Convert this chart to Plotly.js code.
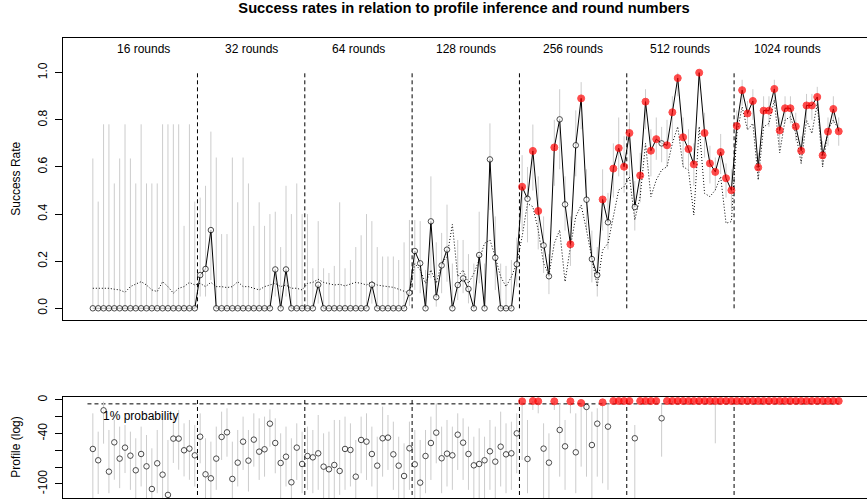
<!DOCTYPE html>
<html>
<head>
<meta charset="utf-8">
<script src="https://cdn.plot.ly/plotly-3.0.1.min.js"></script>
<style>
  html, body { margin: 0; padding: 0; overflow: hidden; background: #ffffff; }
</style>
</head>
<body>
<div id="chart"></div>
<script>
// Round-number groups (20 runs each)
const groupLabels = ['16 rounds', '32 rounds', '64 rounds', '128 rounds', '256 rounds', '512 rounds', '1024 rounds'];
const runsPerGroup = 20;

// Observed success rate per run
const successRate = [
  0,0,0,0,0,0,0,0,0,0,0,0,0,0,0,0,0,0,0,0,
  0.141,0.167,0.332,0,0,0,0,0,0,0,0,0,0,0,0.165,0,0.165,0,0,0,
  0,0,0.1,0,0,0,0,0,0,0,0,0,0.1,0,0,0,0,0,0,0.066,
  0.243,0.191,0,0.369,0.047,0.182,0.249,0,0.099,0.127,0.082,0,0.226,0,0.632,0.215,0,0,0,0.187,
  0.516,0.465,0.668,0.413,0.267,0.136,0.683,0.802,0.441,0.272,0.692,0.891,0.461,0.209,0.141,0.462,0.365,0.593,0.680,0.601,
  0.744,0.430,0.564,0.877,0.669,0.718,0.700,0.692,0.832,0.977,0.726,0.676,0.611,1.000,0.744,0.615,0.579,0.663,0.552,0.501,
  0.774,0.926,0.827,0.880,0.598,0.839,0.839,0.931,0.755,0.849,0.849,0.772,0.669,0.861,0.861,0.897,0.649,0.750,0.846,0.751
];

// Confidence interval of the success rate
const successUpper = [
  0.636,0.453,0.781,0.781,0.53,0.636,0.781,0.636,0.53,0.781,0.53,0.53,0.53,0.781,0.781,0.781,0.781,0.35,0.781,0.453,
  0.47,0.52,0.75,0.64,0.315,0.315,0.64,0.45,0.64,0.53,0.35,0.45,0.35,0.40,0.41,0.26,0.52,0.40,0.53,0.40,
  0.40,0.17,0.37,0.17,0.15,0.18,0.45,0.17,0.205,0.26,0.31,0.40,0.37,0.26,0.22,0.22,0.22,0.205,0.28,0.375,
  0.375,0.37,0.163,0.56,0.28,0.32,0.44,0.19,0.29,0.29,0.23,0.19,0.41,0.19,0.785,0.39,0.19,0.18,0.205,0.30,
  0.65,0.60,0.78,0.56,0.39,0.23,0.80,0.93,0.56,0.39,0.84,0.96,0.59,0.33,0.26,0.59,0.49,0.70,0.81,0.73,
  0.83,0.54,0.66,0.93,0.76,0.81,0.77,0.80,0.90,1.0,0.81,0.76,0.70,1.0,0.83,0.69,0.64,0.74,0.615,0.59,
  0.84,0.97,0.88,0.93,0.66,0.90,0.90,0.97,0.81,0.90,0.90,0.83,0.73,0.91,0.91,0.94,0.71,0.81,0.90,0.81
];
const successLower = [
  0,0,0,0,0,0,0,0,0,0,0,0,0,0,0,0,0,0,0,0,
  0.05,0.05,0.12,0,0,0,0,0,0,0,0,0,0,0,0.05,0,0.05,0,0,0,
  0,0,0.02,0,0,0,0,0,0,0,0,0,0.02,0,0,0,0,0,0,0.01,
  0.078,0.064,0,0.127,0.007,0.064,0.113,0,0.035,0.064,0.021,0,0.106,0,0.417,0.078,0,0,0,0.092,
  0.33,0.28,0.50,0.25,0.15,0.06,0.52,0.59,0.33,0.18,0.56,0.76,0.33,0.11,0.05,0.33,0.25,0.47,0.56,0.49,
  0.56,0.33,0.45,0.76,0.56,0.63,0.62,0.60,0.71,0.90,0.60,0.59,0.52,0.97,0.64,0.53,0.50,0.57,0.47,0.42,
  0.70,0.86,0.76,0.80,0.545,0.77,0.77,0.87,0.69,0.785,0.785,0.71,0.615,0.80,0.80,0.84,0.60,0.69,0.785,0.69
];

// Success rate expected from the inferred profile (dotted)
const expectedRate = [
  0.085,0.085,0.088,0.085,0.081,0.078,0.068,0.092,0.103,0.113,0.099,0.078,0.071,0.113,0.092,0.064,0.085,0.092,0.110,0.099,
  0.106,0.092,0.110,0.092,0.092,0.088,0.092,0.113,0.092,0.092,0.085,0.078,0.092,0.099,0.106,0.092,0.099,0.085,0.085,0.078,
  0.106,0.110,0.123,0.110,0.106,0.099,0.102,0.095,0.103,0.110,0.106,0.099,0.113,0.099,0.095,0.092,0.089,0.081,0.074,0.064,
  0.19,0.163,0.106,0.163,0.106,0.191,0.219,0.356,0.134,0.163,0.106,0.148,0.205,0.276,0.290,0.219,0.134,0.092,0.134,0.191,
  0.304,0.445,0.431,0.332,0.191,0.141,0.276,0.332,0.113,0.262,0.389,0.438,0.332,0.205,0.092,0.247,0.276,0.389,0.502,0.516,
  0.559,0.375,0.474,0.70,0.474,0.545,0.587,0.601,0.70,0.771,0.601,0.587,0.396,0.771,0.488,0.474,0.502,0.559,0.361,0.368,
  0.74,0.855,0.757,0.785,0.545,0.77,0.785,0.884,0.66,0.799,0.813,0.742,0.615,0.799,0.742,0.87,0.60,0.757,0.799,0.757
];

// 1 = the true profile was inferred (drawn in red)
const profileFound = [
  0,0,0,0,0,0,0,0,0,0,0,0,0,0,0,0,0,0,0,0,
  0,0,0,0,0,0,0,0,0,0,0,0,0,0,0,0,0,0,0,0,
  0,0,0,0,0,0,0,0,0,0,0,0,0,0,0,0,0,0,0,0,
  0,0,0,0,0,0,0,0,0,0,0,0,0,0,0,0,0,0,0,0,
  1,0,1,1,0,0,1,0,0,1,0,1,0,0,0,1,0,1,1,1,
  1,0,1,1,1,1,0,1,1,1,1,1,1,1,1,1,1,1,1,1,
  1,1,1,1,1,1,1,1,1,1,1,1,1,1,1,1,1,1,1,1
];

// Log-probability of the true profile, with its range
const profileLog = [
  -58.3,-71.8,-12.3,-85.3,-50.4,-69.8,-56.7,-66.3,-83.7,-64.3,-79,-106,-75.4,-88.9,-113,-46,-46,-59.9,-57.9,-65.9,
  -43.7,-88.5,-93.3,-69.8,-44,-38.5,-94,-74.6,-49.6,-72.2,-47.2,-61.5,-58.7,-28.2,-51.2,-75,-67.5,-98,-56.7,-76.2,
  -66.7,-68.3,-63.5,-79.4,-82.5,-77.4,-84.5,-58.3,-59.5,-91.3,-47.6,-49.6,-64.3,-78.2,-45.6,-44.8,-64.7,-78.2,-90.5,-57.5,
  -76.6,-98.4,-66.7,-51.2,-38.9,-69.4,-63.9,-65.9,-41.3,-50.8,-64.3,-77.8,-76.2,-71.8,-61.1,-73.4,-55.6,-64.7,-63.5,-39.7,
  -1.6,-70.2,-1.2,-1.6,-57.9,-74.6,-1.6,-35.7,-55.2,-1.6,-62.3,-3.6,-8.3,-53.6,-28.2,-2.8,-31.7,-1.2,-1.2,-1.2,
  -1.2,-45.6,-1.2,-1.2,-1.2,-1.2,-21.8,-1.2,-1.2,-1.2,-1.2,-1.2,-1.2,-1.2,-1.2,-1.2,-1.2,-1.2,-1.2,-1.2,
  -1.2,-1.2,-1.2,-1.2,-1.2,-1.2,-1.2,-1.2,-1.2,-1.2,-1.2,-1.2,-1.2,-1.2,-1.2,-1.2,-1.2,-1.2,-1.2,-1.2
];
const profileUpper = [
  -15.9,-37.7,-2,-35.7,-23.8,-31.7,-29.8,-37.7,-45.6,-31.7,-41.7,-57.5,-35.7,-23.8,-47.6,-15.9,-11.9,-27.8,-23.8,-29.8,
  -15.9,-45.6,-49.6,-31.7,-13.9,-9.9,-49.6,-35.7,-19.8,-35.7,-15.9,-21.8,-19.8,-11.1,-21.8,-39.7,-31.7,-45.6,-27.8,-37.7,
  -31.7,-35.7,-17.9,-39.7,-37.7,-23.8,-23.8,-19.8,-27.8,-47.6,-19.8,-15.9,-31.7,-43.7,-7.9,-17.9,-25.8,-43.7,-51.6,-25.8,
  -35.7,-47.6,-35.7,-19.8,-4,-31.7,-23.8,-31.7,-15.9,-21.8,-31.7,-43.7,-33.7,-43.7,-23.8,-31.7,-13.9,-27.8,-25.8,-15.9,
  -1.6,-23.8,-1.2,-1.6,-27.8,-39.7,-1.6,-4,-23.8,-1.6,-15.9,-3.6,-6,-13.9,-9.9,-2.8,-4,-1.2,-1.2,-1.2,
  -1.2,-29.8,-1.2,-1.2,-1.2,-1.2,-4,-1.2,-1.2,-1.2,-1.2,-1.2,-1.2,-1.2,-1.2,-1.2,-1.2,-1.2,-1.2,-1.2,
  -1.2,-1.2,-1.2,-1.2,-1.2,-1.2,-1.2,-1.2,-1.2,-1.2,-1.2,-1.2,-1.2,-1.2,-1.2,-1.2,-1.2,-1.2,-1.2,-1.2
];
const profileLower = [
  -130,-112,-52,-111,-95,-105,-87,-107,-130,-103,-130,-130,-111,-130,-130,-75,-83,-91,-95,-103,
  -75.4,-130,-130,-107,-71.4,-67.5,-130,-103,-83.3,-109,-79.4,-95.2,-91.3,-55.6,-87.3,-130,-103,-130,-95.2,-111,
  -107,-111,-107,-130,-130,-130,-113,-107,-103,-130,-87.3,-95.2,-103,-130,-91.3,-83.3,-107,-130,-130,-107,
  -130,-130,-111,-95.2,-75.4,-111,-103,-107,-83.3,-95.2,-107,-130,-130,-130,-107,-130,-103,-111,-107,-87.3,
  -71.4,-111,-11.9,-15.9,-130,-130,-11.9,-91.3,-107,-15.9,-111,-79.4,-91.3,-130,-91.3,-99.2,-107,-4,-4,-4,
  -4,-130,-4,-4,-4,-4,-67.5,-4,-4,-4,-4,-4,-4,-4,-4,-4,-51.6,-4,-4,-4,
  -4,-4,-4,-4,-4,-4,-4,-4,-4,-4,-4,-4,-4,-4,-4,-4,-4,-4,-4,-4
];

// Threshold line: log of a 1% probability
const onePercentLog = Math.log(0.01);

const FONT = 'Liberation Sans, Arial, Helvetica, sans-serif';
const GREY = '#cccccc';

const runIndex = successRate.map((_, k) => k + 1);
const pointFill = profileFound.map(f => f ? '#ff0000' : '#ffffff');
const pointEdge = profileFound.map(f => f ? '#ff0000' : '#000000');
const pointSize = profileFound.map(f => f ? 7 : 5.5);

function intervalTrace(yVals, lo, hi, xa, ya) {
  return {
    x: runIndex, y: yVals, xaxis: xa, yaxis: ya,
    type: 'scatter', mode: 'markers',
    marker: { size: 1, opacity: 0 },
    error_y: {
      type: 'data', symmetric: false, visible: true,
      array: yVals.map((v, k) => Math.max(0, hi[k] - v)),
      arrayminus: yVals.map((v, k) => Math.max(0, v - lo[k])),
      color: GREY, thickness: 1, width: 0
    },
    hoverinfo: 'skip', showlegend: false
  };
}

const traces = [
  intervalTrace(successRate, successLower, successUpper, 'x', 'y'),
  {
    x: runIndex, y: expectedRate, xaxis: 'x', yaxis: 'y',
    type: 'scatter', mode: 'lines',
    line: { color: '#000000', width: 1, dash: '1px,2px' },
    hoverinfo: 'skip', showlegend: false
  },
  {
    x: runIndex, y: successRate, xaxis: 'x', yaxis: 'y',
    type: 'scatter', mode: 'lines+markers',
    line: { color: '#000000', width: 1 },
    marker: { symbol: 'circle', size: pointSize, color: pointFill, line: { color: pointEdge, width: 1 } },
    cliponaxis: false, hoverinfo: 'skip', showlegend: false
  },
  intervalTrace(profileLog, profileLower, profileUpper, 'x2', 'y2'),
  {
    x: runIndex, y: profileLog, xaxis: 'x2', yaxis: 'y2',
    type: 'scatter', mode: 'markers',
    marker: { symbol: 'circle', size: pointSize, color: pointFill, line: { color: pointEdge, width: 1 } },
    cliponaxis: false, hoverinfo: 'skip', showlegend: false
  }
];

// Group separators and labels
const shapes = [];
const annotations = [];
for (let g = 0; g < groupLabels.length; g++) {
  const mid = g * runsPerGroup + (runsPerGroup + 1) / 2;
  annotations.push({
    x: mid, y: 1.1, xref: 'x', yref: 'y', text: groupLabels[g],
    showarrow: false, xanchor: 'center', yanchor: 'middle',
    font: { family: FONT, size: 12, color: '#000000' }
  });
  if (g > 0) {
    const sep = g * runsPerGroup + 0.5;
    shapes.push({ type: 'line', xref: 'x', yref: 'y', x0: sep, x1: sep, y0: 0, y1: 1,
      line: { color: '#000000', width: 1, dash: '4px,3px' }, layer: 'below' });
    shapes.push({ type: 'line', xref: 'x2', yref: 'y2', x0: sep, x1: sep, y0: 0, y1: -116.7,
      line: { color: '#000000', width: 1, dash: '4px,3px' }, layer: 'below' });
  }
}
shapes.push({ type: 'line', xref: 'x2', yref: 'y2', x0: 0, x1: runIndex.length,
  y0: onePercentLog, y1: onePercentLog,
  line: { color: '#000000', width: 1, dash: '4px,3px' }, layer: 'below' });

annotations.push({
  x: 2.5, y: -19, xref: 'x2', yref: 'y2', text: '1% probability',
  showarrow: false, xanchor: 'left', yanchor: 'middle',
  font: { family: FONT, size: 12, color: '#000000' }
});
annotations.push({
  x: 0, y: 0.694, xref: 'paper', yref: 'paper', xshift: -47, text: 'Success Rate',
  textangle: -90, showarrow: false, xanchor: 'center', yanchor: 'middle',
  font: { family: FONT, size: 12, color: '#000000' }
});
annotations.push({
  x: 0, y: 0.1095, xref: 'paper', yref: 'paper', xshift: -47, text: 'Profile (log)',
  textangle: -90, showarrow: false, xanchor: 'center', yanchor: 'middle',
  font: { family: FONT, size: 12, color: '#000000' }
});

// The frame runs on past the right edge, so only three sides are drawn
const xCommon = {
  range: [-4.56, 145.27], showgrid: false, zeroline: false,
  showticklabels: false, ticks: '', showline: true, mirror: true,
  linecolor: '#000000', linewidth: 1, fixedrange: true
};
const yCommon = {
  showgrid: false, zeroline: false, ticks: 'outside', ticklen: 7, tickwidth: 1,
  tickcolor: '#000000', tickangle: -90, showline: true, mirror: false,
  linecolor: '#000000', linewidth: 1, automargin: false, ticklabelstandoff: 3,
  tickfont: { family: FONT, size: 12, color: '#000000' }, fixedrange: true
};

const layout = {
  width: 867, height: 501,
  margin: { l: 63, r: 0, t: 38, b: 3, pad: 0 },
  paper_bgcolor: '#ffffff', plot_bgcolor: '#ffffff',
  showlegend: false,
  title: {
    text: '<b>Success rates in relation to profile inference and round numbers</b>',
    font: { family: FONT, size: 14.7, color: '#000000' },
    x: 0.5352, xref: 'container', xanchor: 'center',
    y: 1 - 8 / 501, yref: 'container', yanchor: 'middle'
  },
  xaxis: Object.assign({}, xCommon, { domain: [0, 1], anchor: 'y' }),
  xaxis2: Object.assign({}, xCommon, { domain: [0, 1], anchor: 'y2', matches: 'x' }),
  yaxis: Object.assign({}, yCommon, {
    domain: [0.38804, 1], anchor: 'x', range: [-0.0475, 1.1473],
    tickvals: [0, 0.2, 0.4, 0.6, 0.8, 1.0],
    ticktext: ['0.0', '0.2', '0.4', '0.6', '0.8', '1.0']
  }),
  yaxis2: Object.assign({}, yCommon, {
    domain: [0, 0.21891], anchor: 'x2', range: [-116.7, 3.2],
    tickvals: [0, -20, -40, -60, -80, -100],
    ticktext: ['0', '', '-40', '', '', '-100']
  }),
  shapes: shapes,
  annotations: annotations
};

Plotly.newPlot('chart', traces, layout, { staticPlot: true, displayModeBar: false });
</script>
</body>
</html>
